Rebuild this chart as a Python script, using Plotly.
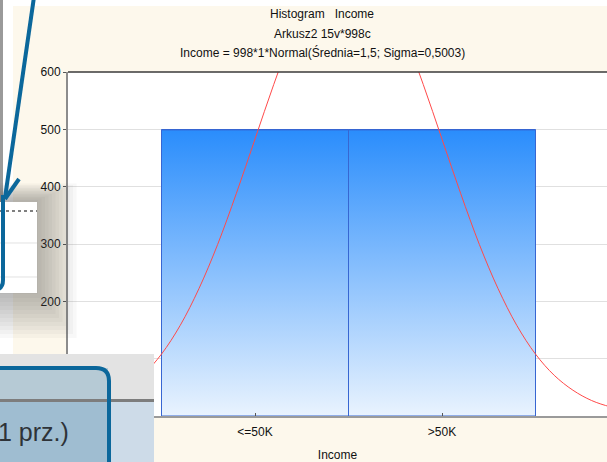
import plotly.graph_objects as go

# ----------------------------------
# Data
# ----------------------------------

categories = ["<=50K", ">50K"]
counts = [499, 499]

# fitted normal curve, sampled along the category axis
curve_x = [0.0, 0.1, 0.2, 0.3, 0.4, 0.5, 0.6, 0.7, 0.8, 0.9, 1.0,
           1.1, 1.2, 1.3, 1.4, 1.5, 1.6, 1.7, 1.8, 1.9, 2.0,
           2.1, 2.2, 2.3, 2.4, 2.5, 2.6, 2.7, 2.8, 2.9, 3.0]
curve_y = [9, 16, 27, 45, 71, 108, 158, 222, 299, 388, 483,
           578, 665, 735, 780, 796, 780, 735, 665, 578, 483,
           388, 299, 222, 158, 108, 71, 45, 27, 16, 9]

y_ticks = [0, 100, 200, 300, 400, 500, 600]

title_lines = [
    "Histogram   Income",
    "Arkusz2 15v*998c",
    "Income = 998*1*Normal(Średnia=1,5; Sigma=0,5003)",
]

FONT = "Liberation Sans, Arial, sans-serif"
W, H = 607, 462
L, T, B = 68, 72, 416
PW = W - L


def px(x):
    return (x - L) / PW


def py(y):
    return (B - y) / (B - T)


def path(points, close=False):
    s = "M " + " L ".join(f"{px(x):.5f},{py(y):.5f}" for x, y in points)
    return s + (" Z" if close else "")


fig = go.Figure()

# gradient bars (the polygon edge doubles as the bar outline)
for i, c in enumerate(counts):
    xc = i + 1
    fig.add_trace(go.Scatter(
        x=[xc - 0.5, xc + 0.5, xc + 0.5, xc - 0.5, xc - 0.5],
        y=[0, 0, c, c, 0],
        mode="lines",
        fill="toself",
        line=dict(width=1, color="#3766d2"),
        fillgradient=dict(
            type="vertical",
            colorscale=[[0, "#e9f3fe"], [1, "#2a8dfc"]],
        ),
        hoverinfo="skip",
        showlegend=False,
    ))

fig.add_trace(go.Bar(
    x=[1, 2],
    y=counts,
    width=1.0,
    marker=dict(color="rgba(0,0,0,0)", line=dict(color="#3766d2", width=1)),
    showlegend=False,
))

fig.add_trace(go.Scatter(
    x=curve_x,
    y=curve_y,
    mode="lines",
    line=dict(color="#ff4a4a", width=1, shape="spline"),
    showlegend=False,
))

# ----------------------------------
# Titles
# ----------------------------------

annotations = []
for txt, yy in zip(title_lines, [14, 34, 53]):
    annotations.append(dict(
        text=txt, x=px(322), y=py(yy), xref="paper", yref="paper",
        xanchor="center", yanchor="middle", showarrow=False,
        font=dict(family=FONT, size=12, color="#111"),
    ))

# ----------------------------------
# Overlapping screenshot pieces
# ----------------------------------

shapes = []

def rect(x0, y0, x1, y1, fill, line=None, opacity=1.0):
    shapes.append(dict(
        type="rect", xref="paper", yref="paper", layer="above",
        x0=px(x0), x1=px(x1), y0=py(y1), y1=py(y0),
        fillcolor=fill, opacity=opacity,
        line=dict(width=0) if line is None else line,
    ))

def line_path(points, color, width, dash="solid"):
    shapes.append(dict(
        type="path", xref="paper", yref="paper", layer="above",
        path=path(points), line=dict(color=color, width=width, dash=dash),
    ))

# white margins top/left and gray strip
rect(0, 0, W, 6, "#ffffff")
rect(0, 0, 13, 354, "#ffffff")
rect(0, 0, 3, 202, "#9a9a9a")

# soft shadow around small white panel
for k in range(12):
    rect(0, 200 - 1.5 * k, 38 + 3.5 * k, 294 + 4 * k, "#4a4a40", opacity=0.04)

# small white panel with table lines
rect(0, 202, 37, 293, "#ffffff")
line_path([(0, 211), (37, 211)], "#555555", 1.5, "dot")
line_path([(0, 243), (37, 243)], "#e2e2e2", 1)
line_path([(0, 277), (37, 277)], "#e2e2e2", 1)

# blue arrow + box edge
BLUE = "#0b679b"
line_path([(34, -3), (5, 198)], BLUE, 4)
line_path([(19, 179), (5, 199)], BLUE, 4)
shapes.append(dict(
    type="path", xref="paper", yref="paper", layer="above",
    path=(f"M {px(3)},{py(195)} L {px(3)},{py(280)} "
          f"Q {px(3)},{py(290)} {px(-7)},{py(290)}"),
    line=dict(color=BLUE, width=4),
))

# bottom-left dialog
rect(0, 354, 154, 400, "#e3e3e3")
rect(0, 401, 154, 462, "#cddbe8")
rect(0, 368, 108, 400, "#b6cad5")
rect(0, 401, 108, 462, "#9fbdd1")
rect(0, 399, 154, 402, "#7d7d7d")
shapes.append(dict(
    type="path", xref="paper", yref="paper", layer="above",
    path=(f"M {px(-10)},{py(368)} L {px(96)},{py(368)} "
          f"Q {px(109)},{py(368)} {px(109)},{py(381)} L {px(109)},{py(470)}"),
    line=dict(color=BLUE, width=4),
))
annotations.append(dict(
    text="1 prz.)", x=px(-4), y=py(432), xref="paper", yref="paper",
    xanchor="left", yanchor="middle", showarrow=False,
    font=dict(family=FONT, size=25, color="#2e3338"),
))

fig.update_layout(
    width=W,
    height=H,
    margin=dict(l=L, r=0, t=T, b=H - B, pad=0),
    paper_bgcolor="#fdf8ec",
    plot_bgcolor="#ffffff",
    font=dict(family=FONT, size=12, color="#111"),
    bargap=0,
    shapes=shapes,
    annotations=annotations,
    xaxis=dict(
        range=[0, PW / 187],
        tickvals=[1, 2],
        ticktext=categories,
        ticks="inside",
        ticklen=3,
        tickcolor="#555",
        ticklabelstandoff=4,
        showgrid=False,
        zeroline=False,
        showline=True,
        linecolor="#9a9a9a",
        linewidth=2,
        mirror=False,
        title=dict(text="Income", font=dict(family=FONT, size=12), standoff=13),
        tickfont=dict(family=FONT, size=12, color="#111"),
    ),
    yaxis=dict(
        range=[0, 600],
        tickvals=y_ticks,
        ticks="outside",
        ticklen=3,
        tickcolor="#555",
        showgrid=True,
        gridcolor="#e0e0e0",
        gridwidth=1,
        zeroline=False,
        showline=True,
        linecolor="#8c8c8c",
        linewidth=2,
        tickfont=dict(family=FONT, size=12, color="#111"),
    ),
)

# dark top frame of the plot area
fig.add_shape(type="line", xref="paper", yref="paper", x0=0, x1=1, y0=1, y1=1,
              line=dict(color="#3a3a3a", width=1.5))

# the page's default body margin would shift the figure
fig.write_html(
    "out.html",
    config={"displayModeBar": False},
    post_script="document.body.style.margin='0';",
)
